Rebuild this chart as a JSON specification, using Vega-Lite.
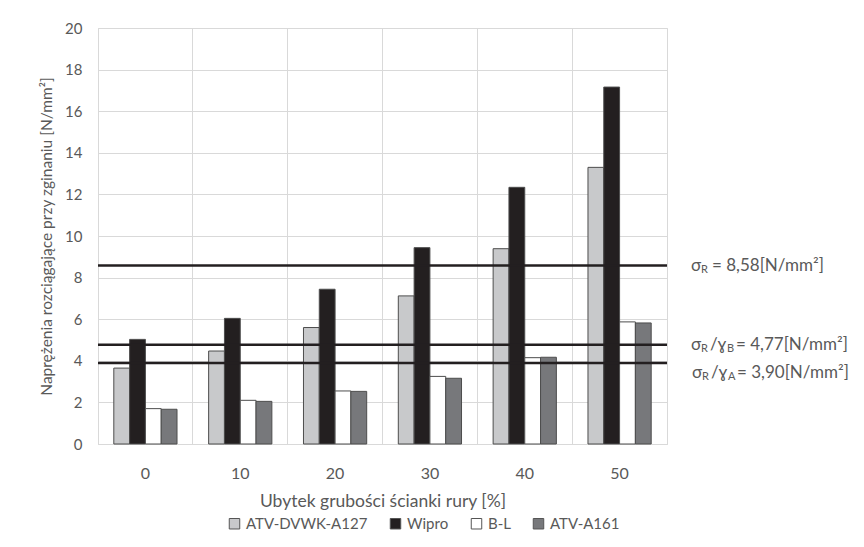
{
  "$schema": "https://vega.github.io/schema/vega-lite/v6.json",
  "width": 569,
  "height": 416,
  "autosize": {"type": "none"},
  "padding": {"left": 98, "top": 28, "right": 197, "bottom": 103},
  "background": "white",
  "config": {
    "font": "Lato",
    "view": {"stroke": "#d9d9d9", "strokeWidth": 1},
    "axis": {"labelColor": "#595959", "titleColor": "#595959", "labelFont": "Lato", "titleFont": "Lato", "titleFontWeight": "normal", "gridColor": "#d9d9d9", "gridWidth": 1}
  },
  "datasets": {
    "bars": [
      {"ubytek": 0, "metoda": "ATV-DVWK-A127", "v": 3.65},
      {"ubytek": 0, "metoda": "Wipro", "v": 5.03},
      {"ubytek": 0, "metoda": "B-L", "v": 1.70},
      {"ubytek": 0, "metoda": "ATV-A161", "v": 1.67},
      {"ubytek": 10, "metoda": "ATV-DVWK-A127", "v": 4.47},
      {"ubytek": 10, "metoda": "Wipro", "v": 6.04},
      {"ubytek": 10, "metoda": "B-L", "v": 2.10},
      {"ubytek": 10, "metoda": "ATV-A161", "v": 2.05},
      {"ubytek": 20, "metoda": "ATV-DVWK-A127", "v": 5.60},
      {"ubytek": 20, "metoda": "Wipro", "v": 7.44},
      {"ubytek": 20, "metoda": "B-L", "v": 2.55},
      {"ubytek": 20, "metoda": "ATV-A161", "v": 2.53},
      {"ubytek": 30, "metoda": "ATV-DVWK-A127", "v": 7.12},
      {"ubytek": 30, "metoda": "Wipro", "v": 9.44},
      {"ubytek": 30, "metoda": "B-L", "v": 3.25},
      {"ubytek": 30, "metoda": "ATV-A161", "v": 3.16},
      {"ubytek": 40, "metoda": "ATV-DVWK-A127", "v": 9.39},
      {"ubytek": 40, "metoda": "Wipro", "v": 12.34},
      {"ubytek": 40, "metoda": "B-L", "v": 4.15},
      {"ubytek": 40, "metoda": "ATV-A161", "v": 4.17},
      {"ubytek": 50, "metoda": "ATV-DVWK-A127", "v": 13.30},
      {"ubytek": 50, "metoda": "Wipro", "v": 17.16},
      {"ubytek": 50, "metoda": "B-L", "v": 5.87},
      {"ubytek": 50, "metoda": "ATV-A161", "v": 5.82}
    ],
    "refs": [
      {"v": 8.58},
      {"v": 4.77},
      {"v": 3.90}
    ]
  },
  "layer": [
    {
      "data": {"name": "bars"},
      "mark": {"type": "bar", "stroke": "#4d4d4d", "strokeWidth": 1},
      "encoding": {
        "x": {
          "field": "ubytek", "type": "ordinal",
          "scale": {"paddingInner": 0, "paddingOuter": 0},
          "axis": {"title": "Ubytek grubości ścianki rury [%]", "labelAngle": 0, "labelFontSize": 16, "titleFontSize": 17.5, "labelPadding": 21, "titlePadding": 11, "ticks": false, "grid": true, "bandPosition": 0, "domainColor": "#d9d9d9"}
        },
        "xOffset": {
          "field": "metoda", "type": "nominal",
          "sort": ["ATV-DVWK-A127", "Wipro", "B-L", "ATV-A161"],
          "scale": {"paddingInner": 0, "paddingOuter": 1.27}
        },
        "y": {
          "field": "v", "type": "quantitative",
          "scale": {"domain": [0, 20]},
          "axis": {"title": "Naprężenia rozciągające przy zginaniu [N/mm²]", "values": [0, 2, 4, 6, 8, 10, 12, 14, 16, 18, 20], "labelFontSize": 15, "titleFontSize": 15.5, "ticks": false, "domain": false, "labelPadding": 16, "titlePadding": 10}
        },
        "fill": {
          "field": "metoda", "type": "nominal",
          "sort": ["ATV-DVWK-A127", "Wipro", "B-L", "ATV-A161"],
          "scale": {"domain": ["ATV-DVWK-A127", "Wipro", "B-L", "ATV-A161"], "range": ["#c8c9cb", "#231f20", "#ffffff", "#77787b"]},
          "legend": {"title": null, "orient": "none", "direction": "horizontal", "legendX": 129, "legendY": 488, "symbolType": "square", "symbolSize": 110, "symbolStrokeColor": "#555555", "symbolStrokeWidth": 1, "labelFontSize": 15, "labelColor": "#595959", "labelFont": "Lato", "columnPadding": 20, "labelOffset": 4}
        }
      }
    },
    {
      "data": {"name": "refs"},
      "mark": {"type": "rule", "color": "#231f20", "strokeWidth": 2.5},
      "encoding": {"y": {"field": "v", "type": "quantitative"}}
    },
    {
      "data": {"values": [{"v": 8.58}]},
      "layer": [
        {"mark": {"type": "text", "text": "σ", "align": "left", "baseline": "middle", "dx": 24, "fontSize": 17, "color": "#595959", "font": "Lato"}},
        {"mark": {"type": "text", "text": "R", "align": "left", "baseline": "middle", "dx": 34, "dy": 4, "fontSize": 11, "color": "#595959", "font": "Lato"}},
        {"mark": {"type": "text", "text": "= 8,58[N/mm²]", "align": "left", "baseline": "middle", "dx": 45, "fontSize": 17, "color": "#595959", "font": "Lato"}}
      ],
      "encoding": {
        "x": {"datum": 50, "type": "ordinal", "bandPosition": 1},
        "y": {"field": "v", "type": "quantitative"}
      }
    },
    {
      "data": {"values": [{"v": 4.77}]},
      "layer": [
        {"mark": {"type": "text", "text": "σ", "align": "left", "baseline": "middle", "dx": 24, "fontSize": 17, "color": "#595959", "font": "Lato"}},
        {"mark": {"type": "text", "text": "R", "align": "left", "baseline": "middle", "dx": 34, "dy": 4, "fontSize": 11, "color": "#595959", "font": "Lato"}},
        {"mark": {"type": "text", "text": "/ɣ", "align": "left", "baseline": "middle", "dx": 43, "fontSize": 17, "color": "#595959", "font": "Lato"}},
        {"mark": {"type": "text", "text": "B", "align": "left", "baseline": "middle", "dx": 60, "dy": 4, "fontSize": 11, "color": "#595959", "font": "Lato"}},
        {"mark": {"type": "text", "text": "= 4,77[N/mm²]", "align": "left", "baseline": "middle", "dx": 69, "fontSize": 17, "color": "#595959", "font": "Lato"}}
      ],
      "encoding": {
        "x": {"datum": 50, "type": "ordinal", "bandPosition": 1},
        "y": {"field": "v", "type": "quantitative"}
      }
    },
    {
      "data": {"values": [{"v": 3.90}]},
      "layer": [
        {"mark": {"type": "text", "text": "σ", "align": "left", "baseline": "middle", "dx": 25, "dy": 10, "fontSize": 17, "color": "#595959", "font": "Lato"}},
        {"mark": {"type": "text", "text": "R", "align": "left", "baseline": "middle", "dx": 35, "dy": 14, "fontSize": 11, "color": "#595959", "font": "Lato"}},
        {"mark": {"type": "text", "text": "/ɣ", "align": "left", "baseline": "middle", "dx": 44, "dy": 10, "fontSize": 17, "color": "#595959", "font": "Lato"}},
        {"mark": {"type": "text", "text": "A", "align": "left", "baseline": "middle", "dx": 61, "dy": 14, "fontSize": 11, "color": "#595959", "font": "Lato"}},
        {"mark": {"type": "text", "text": "= 3,90[N/mm²]", "align": "left", "baseline": "middle", "dx": 70, "dy": 10, "fontSize": 17, "color": "#595959", "font": "Lato"}}
      ],
      "encoding": {
        "x": {"datum": 50, "type": "ordinal", "bandPosition": 1},
        "y": {"field": "v", "type": "quantitative"}
      }
    }
  ]
}
